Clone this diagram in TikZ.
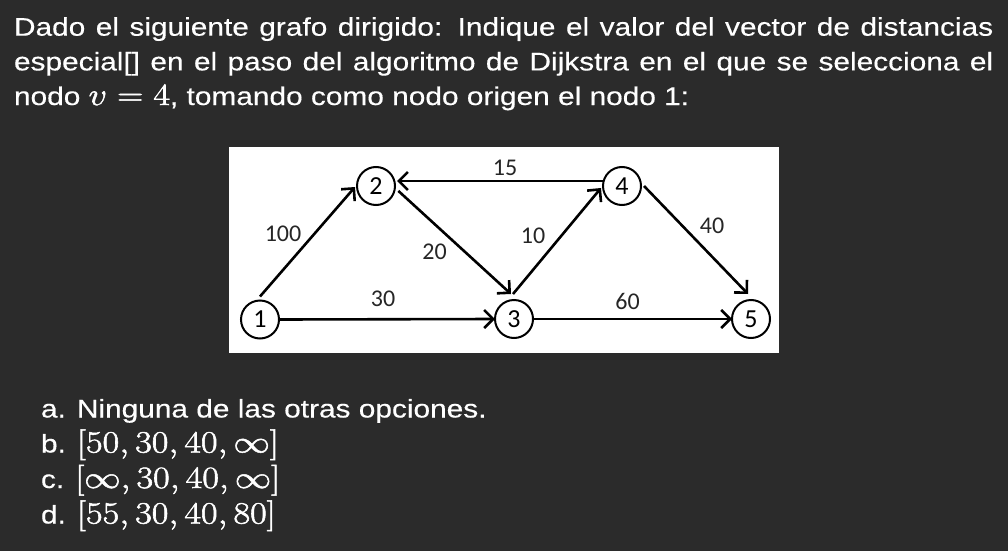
\RequirePackage{fix-cm}
\documentclass[tikz,border=0pt]{standalone}
\usepackage[no-math]{fontspec}
\setmainfont[FakeBold=0.3]{Liberation Sans}
\newfontfamily\grfont{Carlito}
\usetikzlibrary{arrows.meta}
\definecolor{bg}{HTML}{2B2B2B}
\newcommand{\mth}[1]{{\fontsize{31}{31}\selectfont\special{pdf:literal direct 2 Tr 0.5 w}$#1$\special{pdf:literal direct 0 Tr 0.4 w}}}
\newcommand{\sx}[1]{\scalebox{1.17}[1]{#1}}
\begin{document}
\begin{tikzpicture}[x=1pt,y=-1pt,
  txt/.style={anchor=base west, inner sep=0, outer sep=0, text=white, font=\fontsize{25.5}{30}\selectfont},
  vtx/.style={circle, draw=black, line width=2pt, minimum size=38pt, inner sep=0, outer sep=0, font=\grfont\fontsize{26}{26}\selectfont},
  lbl/.style={inner sep=0, text=black!85, font=\grfont\fontsize{24}{24}\selectfont},
  edg/.style={line width=2.6pt, draw=black, -{Straight Barb[length=9pt,width=18pt]}}]
\fill[bg] (0,0) rectangle (1008,551);
\useasboundingbox (0,0) rectangle (1008,551);
% question text
\node[txt] (l1) at (14,35.7) {\sx{\makebox[837pt][s]{Dado el siguiente grafo dirigido: Indique el valor del vector de distancias}}};
\node[txt] (l2) at (14,70.4) {\sx{\makebox[837pt][s]{especial[] en el paso del algoritmo de Dijkstra en el que se selecciona el}}};
\node[txt] (l3) at (14,105) {\sx{nodo \mth{v = 4}, tomando como nodo origen el nodo 1:}};
% graph
\fill[white] (229,147) rectangle (779,353);
\node[vtx] (n1) at (260,319.5) {1};
\node[vtx] (n2) at (376,186) {2};
\node[vtx] (n3) at (514,319) {3};
\node[vtx] (n4) at (622,186) {4};
\node[vtx] (n5) at (751,319) {5};
\draw[edg] ([shift={(0,-4)}]n1.north) -- ([shift={(-2,1)}]n2.west);
\draw[edg] (n1.east) -- (n3.west);
\draw[edg] ([shift={(4,0)}]n2.-15) -- ([shift={(-3,-6)}]n3.north);
\draw[edg] ([shift={(-1,-6)}]n3.north) -- ([shift={(-2,2)}]n4.west);
\draw[edg] ([shift={(0,-5)}]n4.west) -- ([shift={(2,-5)}]n2.east);
\draw[edg] ([shift={(3,0)}]n4.east) -- ([shift={(-3,-6)}]n5.north);
\draw[edg] (n3.east) -- (n5.west);
\node[lbl] (w12) at (283,234) {100};
\node[lbl] (w13) at (383,299) {30};
\node[lbl] (w23) at (434.5,252) {20};
\node[lbl] (w42) at (505,168) {15};
\node[lbl] (w34) at (533,235.5) {10};
\node[lbl] (w45) at (712,225.5) {40};
\node[lbl] (w35) at (627.5,301) {60};
% options
\node[txt] (oa) at (41,417.5) {\sx{a. Ninguna de las otras opciones.}};
\node[txt] (ob) at (41,452.5) {\sx{b. \mth{[50, 30, 40, \infty]}}};
\node[txt] (oc) at (41,488) {\sx{c. \mth{[\infty, 30, 40, \infty]}}};
\node[txt] (od) at (41,523.5) {\sx{d. \mth{[55, 30, 40, 80]}}};
\end{tikzpicture}
\end{document}
